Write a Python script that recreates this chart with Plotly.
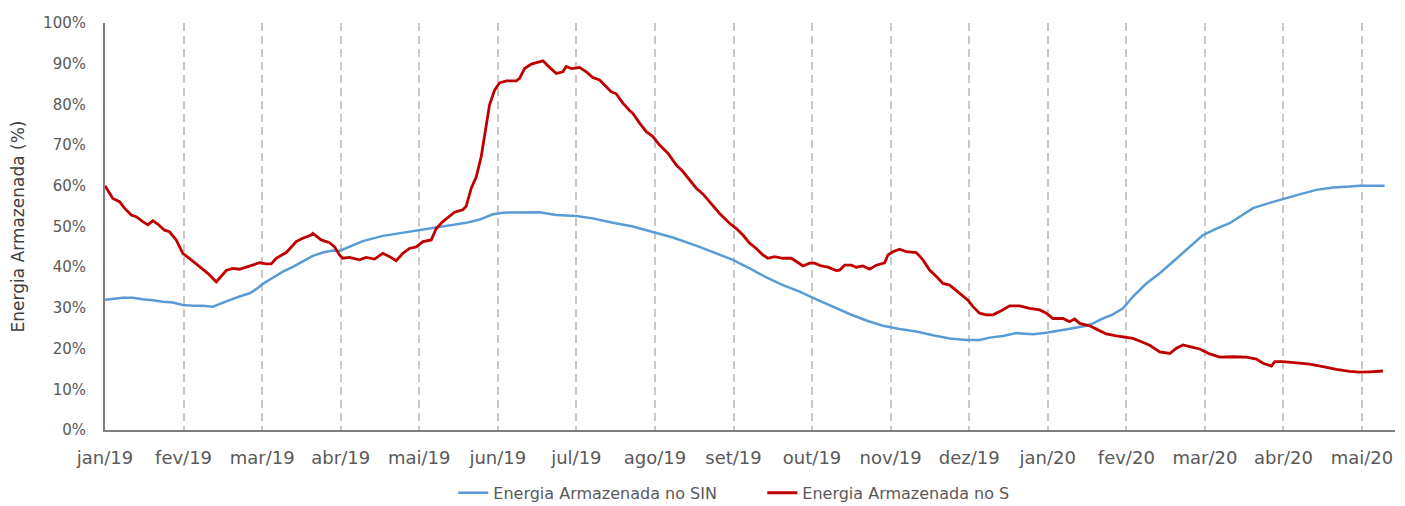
import plotly.graph_objects as go

# Month labels (one per month, equally spaced on the axis)
meses = ["jan/19", "fev/19", "mar/19", "abr/19", "mai/19", "jun/19", "jul/19", "ago/19",
         "set/19", "out/19", "nov/19", "dez/19", "jan/20", "fev/20", "mar/20", "abr/20", "mai/20"]

# Energia Armazenada no SIN (%) - x in months since jan/19
sin_x = [0.0, 0.10, 0.227, 0.354, 0.481, 0.609, 0.736, 0.863, 0.990, 1.118, 1.245, 1.372, 1.458,
         1.585, 1.712, 1.840, 1.925, 2.009, 2.136, 2.264, 2.391, 2.518, 2.645, 2.773, 2.900, 2.985,
         3.113, 3.282, 3.537, 3.707, 3.918, 4.131, 4.344, 4.598, 4.768, 4.937, 5.064, 5.319, 5.531,
         5.744, 5.999, 6.210, 6.465, 6.719, 6.974, 7.228, 7.568, 7.781, 7.992, 8.205, 8.418, 8.629,
         8.842, 9.054, 9.266, 9.478, 9.691, 9.902, 10.114, 10.327, 10.538, 10.751, 10.964, 11.133,
         11.260, 11.430, 11.600, 11.812, 11.982, 12.151, 12.321, 12.491, 12.576, 12.703, 12.830,
         12.958, 13.085, 13.255, 13.425, 13.597, 13.807, 13.976, 14.146, 14.316, 14.443, 14.612,
         14.824, 14.994, 15.206, 15.419, 15.631, 15.843, 15.971, 16.141, 16.289]
sin_y = [32.0, 32.2, 32.5, 32.5, 32.1, 31.9, 31.5, 31.3, 30.7, 30.5, 30.5, 30.3, 31.0,
         31.9, 32.8, 33.6, 34.6, 35.9, 37.4, 38.9, 40.1, 41.4, 42.8, 43.6, 44.1, 44.0,
         45.0, 46.4, 47.7, 48.2, 49.0, 49.5, 50.2, 50.9, 51.7, 53.0, 53.4, 53.5, 53.5,
         52.8, 52.6, 52.0, 50.9, 50.0, 48.7, 47.3, 45.0, 43.4, 41.8, 39.7, 37.5, 35.6,
         34.0, 32.1, 30.3, 28.5, 26.9, 25.6, 24.8, 24.2, 23.3, 22.5, 22.1, 22.1,
         22.7, 23.1, 23.8, 23.5, 23.9, 24.4, 25.0, 25.6, 26.2, 27.4, 28.4,
         29.9, 32.8, 36.0, 38.5, 41.4, 45.0, 47.9, 49.5, 50.8, 52.4, 54.5,
         55.8, 56.8, 57.9, 59.0, 59.6, 59.8, 60.0, 60.0, 60.0]

# Energia Armazenada no S (%)
s_x = [0.0, 0.02, 0.099, 0.185, 0.248, 0.334, 0.397, 0.481, 0.545, 0.609, 0.672, 0.757, 0.821,
       0.906, 0.990, 1.097, 1.203, 1.309, 1.416, 1.479, 1.543, 1.627, 1.712, 1.798, 1.882, 1.967,
       2.052, 2.116, 2.179, 2.307, 2.434, 2.518, 2.625, 2.645, 2.752, 2.858, 2.922, 2.985, 3.027,
       3.113, 3.240, 3.325, 3.431, 3.537, 3.622, 3.707, 3.791, 3.876, 3.962, 4.046, 4.153, 4.216,
       4.300, 4.386, 4.449, 4.555, 4.598, 4.662, 4.726, 4.789, 4.853, 4.895, 4.959, 5.022, 5.108,
       5.235, 5.277, 5.341, 5.426, 5.510, 5.574, 5.659, 5.744, 5.828, 5.871, 5.935, 6.041, 6.126,
       6.210, 6.295, 6.381, 6.444, 6.508, 6.592, 6.677, 6.719, 6.805, 6.890, 6.974, 7.059, 7.165,
       7.272, 7.356, 7.441, 7.526, 7.610, 7.696, 7.823, 7.950, 8.036, 8.120, 8.205, 8.290, 8.374,
       8.438, 8.523, 8.629, 8.736, 8.800, 8.884, 8.969, 9.033, 9.118, 9.202, 9.309, 9.351, 9.415,
       9.500, 9.563, 9.647, 9.733, 9.818, 9.924, 9.966, 10.029, 10.114, 10.200, 10.327, 10.411,
       10.496, 10.582, 10.666, 10.751, 10.815, 10.900, 10.984, 11.048, 11.133, 11.218, 11.302,
       11.409, 11.515, 11.642, 11.770, 11.897, 11.982, 12.066, 12.194, 12.279, 12.343, 12.406,
       12.534, 12.639, 12.746, 12.873, 12.979, 13.085, 13.192, 13.298, 13.425, 13.553, 13.638,
       13.722, 13.807, 13.934, 14.062, 14.189, 14.358, 14.528, 14.656, 14.740, 14.847, 14.889,
       14.994, 15.165, 15.334, 15.503, 15.674, 15.843, 15.971, 16.098, 16.267]
s_y = [60.0, 59.4, 56.9, 56.1, 54.5, 52.8, 52.4, 51.2, 50.4, 51.4, 50.6, 49.1, 48.7,
       46.7, 43.4, 41.8, 40.1, 38.5, 36.4, 37.7, 39.2, 39.7, 39.5, 40.0, 40.5, 41.1,
       40.8, 40.8, 42.2, 43.6, 46.3, 47.1, 47.9, 48.3, 46.7, 46.0, 45.0, 43.0, 42.2,
       42.4, 41.8, 42.4, 42.0, 43.4, 42.6, 41.6, 43.4, 44.6, 45.0, 46.3, 46.7, 49.5,
       51.2, 52.4, 53.5, 54.1, 55.0, 59.4, 62.2, 67.2, 75.4, 79.9, 83.5, 85.3, 85.8,
       85.8, 86.4, 88.8, 89.9, 90.3, 90.7, 89.1, 87.6, 88.0, 89.3, 88.8, 89.1, 88.0,
       86.6, 86.0, 84.4, 83.1, 82.6, 80.3, 78.5, 77.8, 75.4, 73.3, 72.1, 70.0, 68.0,
       65.1, 63.5, 61.4, 59.4, 58.0, 56.1, 53.2, 50.8, 49.5, 47.9, 45.9, 44.6, 43.0,
       42.2, 42.6, 42.2, 42.2, 41.4, 40.3, 41.0, 41.0, 40.3, 40.0, 39.2, 39.3, 40.5,
       40.5, 40.0, 40.3, 39.5, 40.5, 41.1, 43.0, 43.8, 44.4, 43.8, 43.6, 41.8,
       39.3, 37.7, 36.0, 35.6, 34.6, 33.2, 31.9, 30.3, 28.7, 28.3, 28.3,
       29.3, 30.5, 30.5, 29.9, 29.5, 28.7, 27.4, 27.4, 26.6, 27.3, 26.2,
       25.6, 24.6, 23.6, 23.1, 22.8, 22.5, 21.7, 20.8, 19.2, 18.8, 20.1,
       20.9, 20.5, 19.9, 18.7, 17.9, 18.0, 17.9, 17.4, 16.4, 15.7, 16.8,
       16.8, 16.5, 16.2, 15.6, 14.9, 14.4, 14.2, 14.3, 14.5]

tick_color = "#595959"
font_family = "DejaVu Sans"

fig = go.Figure()
fig.add_trace(go.Scatter(x=sin_x, y=sin_y, mode="lines", name="Energia Armazenada no SIN",
                         line=dict(color="#5B9BD5", width=2.5)))
fig.add_trace(go.Scatter(x=s_x, y=s_y, mode="lines", name="Energia Armazenada no S",
                         line=dict(color="#C00000", width=2.8)))

fig.update_layout(
    width=1405, height=506, autosize=False,
    margin=dict(l=105, r=10, t=23, b=76, autoexpand=False),
    plot_bgcolor="white", paper_bgcolor="white",
    font=dict(family=font_family, color=tick_color),
    showlegend=True,
    legend=dict(orientation="h", xref="paper", x=0.270, xanchor="left",
                yref="container", y=0.026, yanchor="middle",
                font=dict(size=16, color=tick_color, family=font_family),
                entrywidth=264, bgcolor="rgba(0,0,0,0)"),
    xaxis=dict(range=[0, 16.42], tickmode="array", tickvals=list(range(len(meses))),
               ticktext=meses, showgrid=True, gridcolor="#c8c8c8", gridwidth=2,
               griddash="8px,5px", showline=True, linecolor="#7f7f7f", linewidth=2,
               zeroline=False, ticks="", ticklabelstandoff=10,
               tickfont=dict(size=18, color=tick_color, family=font_family)),
    yaxis=dict(range=[0, 100], dtick=10, ticksuffix="%", showgrid=False, zeroline=False,
               showline=True, linecolor="#7f7f7f", linewidth=2, ticks="",
               ticklabelstandoff=14,
               tickfont=dict(size=15, color=tick_color, family=font_family),
               title=dict(text="Energia Armazenada (%)", standoff=14,
                          font=dict(size=17, color="#404040", family=font_family))),
)

fig.write_html("out.html", config={"displayModeBar": False},
               post_script="document.body.style.margin='0';")
